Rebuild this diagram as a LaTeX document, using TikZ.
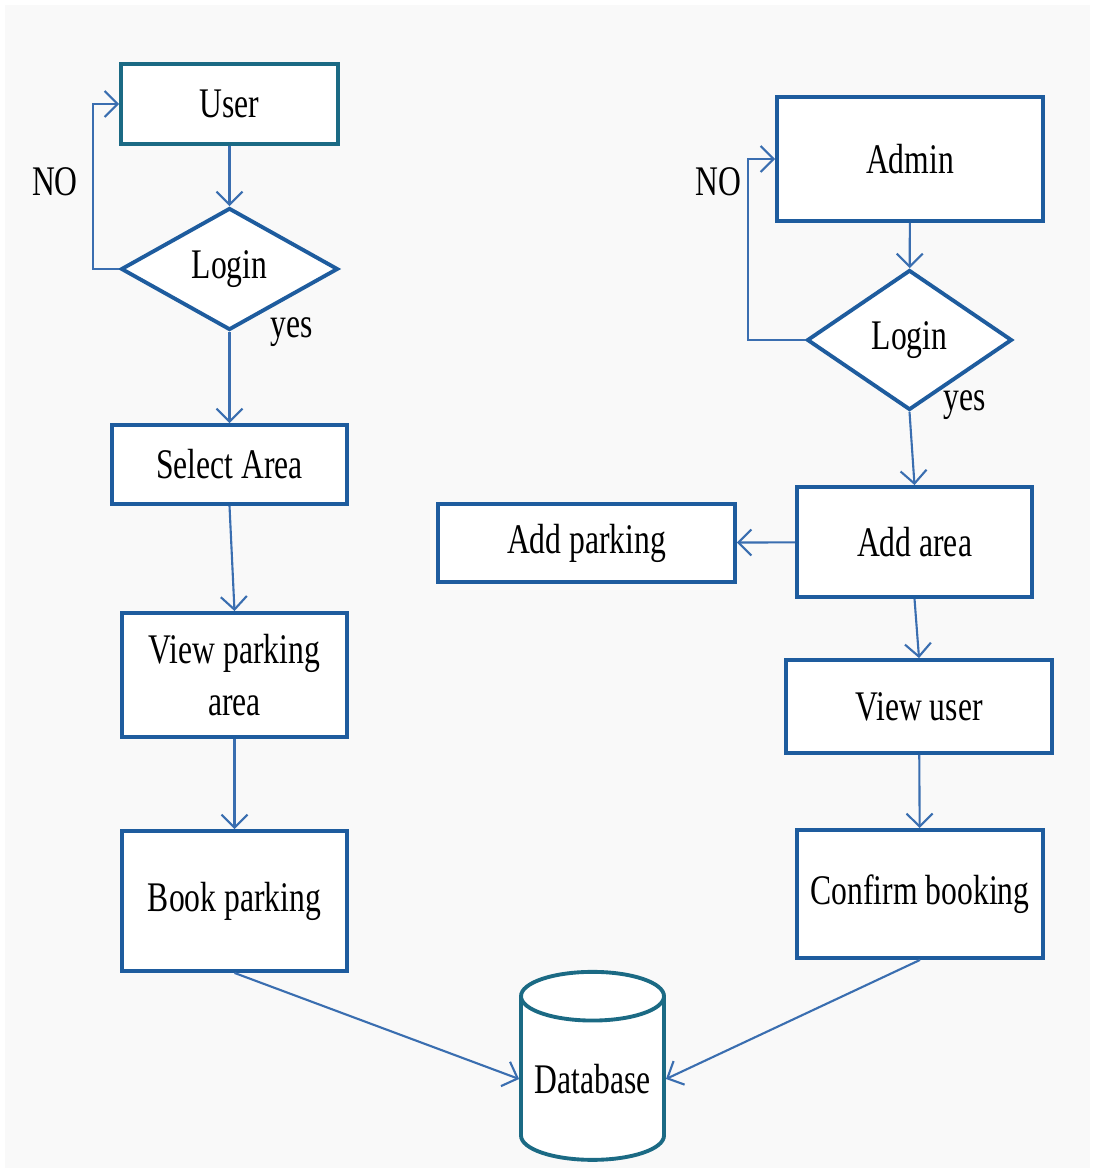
\documentclass[tikz,border=0pt]{standalone}
\usepackage{fontspec}
\setmainfont[FakeStretch=0.75]{Liberation Serif}
\usetikzlibrary{shapes.geometric, arrows.meta}
\definecolor{cus-blue}{RGB}{30,92,158}
\definecolor{cus-teal}{RGB}{27,106,132}
\definecolor{cus-line}{RGB}{58,110,176}
\definecolor{cus-back}{RGB}{249,249,249}

\begin{document}
\begin{tikzpicture}[
	font=\fontsize{12}{15}\selectfont,
	box/.style={draw=cus-blue, line width=1.1pt, fill=white, rectangle, align=center},
	decide/.style={draw=cus-blue, line width=1.1pt, fill=white, diamond, inner sep=0pt},
	link/.style={draw=cus-line, line width=0.6pt, -{Straight Barb[length=1.3mm,width=2.6mm]}}]
\useasboundingbox (0,0) rectangle (10.95,-11.73);
\fill [cus-back] (0.05,-0.05) rectangle (10.9,-11.68);

% user side
\node [box, draw=cus-teal, minimum width=2.17cm, minimum height=0.8cm] (user) at (2.295,-1.04) {User};
\node [decide, minimum width=2.17cm, minimum height=1.22cm] (login1) at (2.295,-2.69) {Login};
\node [box, minimum width=2.35cm, minimum height=0.79cm] (select) at (2.295,-4.645) {Select Area};
\node [box, minimum width=2.25cm, minimum height=1.24cm] (view) at (2.345,-6.75) {View parking\\area};
\node [box, minimum width=2.25cm, minimum height=1.4cm] (book) at (2.345,-9.01) {Book parking};

% admin side
\node [box, minimum width=2.66cm, minimum height=1.24cm] (admin) at (9.10,-1.59) {Admin};
\node [decide, minimum width=2.05cm, minimum height=1.40cm] (login2) at (9.095,-3.40) {Login};
\node [box, minimum width=2.35cm, minimum height=1.10cm] (area) at (9.145,-5.42) {Add area};
\node [box, minimum width=2.97cm, minimum height=0.78cm] (parking) at (5.865,-5.43) {Add parking};
\node [box, minimum width=2.66cm, minimum height=0.93cm] (vuser) at (9.19,-7.065) {View user};
\node [box, minimum width=2.46cm, minimum height=1.28cm] (confirm) at (9.20,-8.94) {Confirm booking};

% database
\node [draw=cus-teal, line width=1.1pt, fill=white, cylinder, shape border rotate=90, aspect=0.42,
	minimum width=1.43cm, minimum height=1.88cm, inner sep=0pt] (db) at (5.925,-10.79) {Database};

% labels
\node at (0.55,-1.82) {NO};
\node at (7.18,-1.82) {NO};
\node at (2.92,-3.32) {yes};
\node at (9.65,-4.05) {yes};

% connectors
\coordinate (c1) at (0.93,-2.69);
\coordinate (c2) at (7.48,-3.40);
\draw [link] (user) -- (login1);
\draw [link] (login1.west) -- (c1) |- (user.west);
\draw [link] (login1.south) -- (select.north);
\draw [link] (select.south) -- (view.north);
\draw [link] (view) -- (book);
\draw [link] (book.south) -- (db.west);

\draw [link] (admin) -- (login2);
\draw [link] (login2.west) -- (c2) |- (admin.west);
\draw [link] (login2.south) -- (area.north);
\draw [link] (area) -- (parking);
\draw [link] (area.south) -- (vuser.north);
\draw [link] (vuser) -- (confirm);
\draw [link] (confirm.south) -- (db.east);
\end{tikzpicture}
\end{document}
